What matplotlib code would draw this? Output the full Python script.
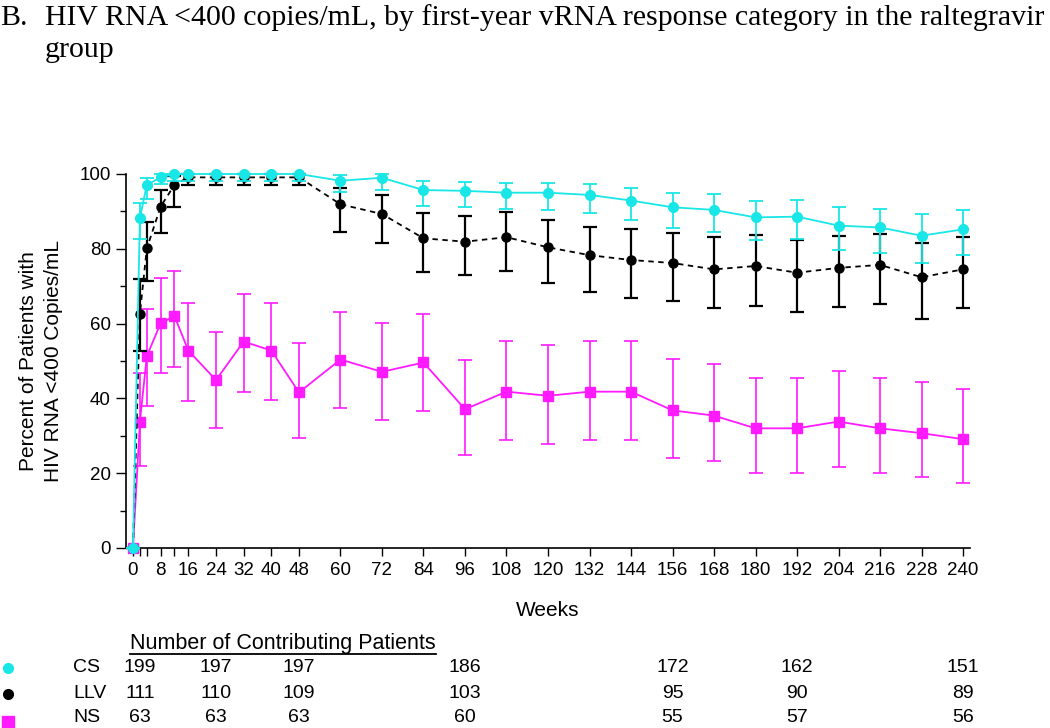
import numpy as np
import matplotlib
matplotlib.use("Agg")
from matplotlib import pyplot as plt
from matplotlib.lines import Line2D
from matplotlib.transforms import blended_transform_factory

# Study weeks
weeks = [0, 2, 4, 8, 12, 16, 24, 32, 40, 48, 60, 72, 84, 96, 108, 120,
         132, 144, 156, 168, 180, 192, 204, 216, 228, 240]

# CS group: percent, lower CI, upper CI
cs_pct = [0, 88.2, 97.1, 99.1, 100, 100, 100, 100, 100, 100, 98.2, 99.0, 95.7,
          95.5, 95.0, 95.0, 94.4, 92.9, 91.1, 90.4, 88.4, 88.6, 86.2, 85.7, 83.5, 85.2]
cs_lo = [0, 82.5, 93.2, 97.3, 98.2, 98.2, 98.2, 98.2, 98.2, 98.2, 95.1, 95.7, 91.5,
         91.3, 90.6, 90.4, 89.5, 87.7, 85.5, 84.6, 82.4, 82.5, 79.7, 79.0, 76.3, 78.3]
cs_hi = [0, 92.3, 98.8, 100, 100, 100, 100, 100, 100, 100, 99.7, 100, 98.0,
         97.9, 97.7, 97.5, 97.2, 96.3, 94.8, 94.6, 92.9, 93.0, 91.3, 90.6, 89.3, 90.4]

# LLV group
llv_pct = [0, 62.7, 80.1, 91.3, 97.1, 99.1, 99.1, 99.1, 99.1, 99.1, 91.9, 89.3, 82.8,
           81.9, 83.1, 80.4, 78.3, 77.0, 76.2, 74.5, 75.4, 73.6, 74.9, 75.7, 72.4, 74.5]
llv_lo = [0, 52.7, 71.4, 84.1, 91.3, 97.0, 97.0, 97.0, 97.0, 97.0, 84.6, 81.5, 73.7,
          73.0, 74.0, 70.9, 68.4, 66.9, 66.1, 64.1, 64.8, 63.2, 64.4, 65.2, 61.2, 64.2]
llv_hi = [0, 71.9, 87.1, 95.7, 99.5, 100, 100, 100, 100, 100, 96.2, 94.4, 89.5,
          88.8, 89.8, 87.7, 85.9, 85.2, 84.3, 83.1, 83.7, 82.4, 83.4, 84.0, 81.6, 83.1]

# NS group
ns_pct = [0, 33.8, 51.3, 60.1, 62.0, 52.8, 44.9, 55.2, 52.8, 41.6, 50.4, 47.1, 49.6,
          37.1, 41.8, 40.7, 41.8, 41.8, 36.8, 35.4, 32.0, 32.0, 33.8, 32.0, 30.7, 29.1]
ns_lo = [0, 21.9, 38.1, 46.7, 48.5, 39.4, 32.2, 41.8, 39.6, 29.3, 37.3, 34.2, 36.5,
         24.8, 28.9, 27.7, 28.9, 28.9, 24.1, 23.3, 20.1, 20.1, 21.7, 20.1, 19.1, 17.5]
ns_hi = [0, 46.9, 63.8, 72.1, 74.1, 65.6, 57.8, 67.9, 65.6, 54.7, 63.2, 60.1, 62.6,
         50.3, 55.3, 54.4, 55.3, 55.3, 50.6, 49.1, 45.5, 45.5, 47.3, 45.5, 44.3, 42.4]

# Number of contributing patients
count_weeks = [2, 24, 48, 96, 156, 192, 240]
cs_n = [199, 197, 197, 186, 172, 162, 151]
llv_n = [111, 110, 109, 103, 95, 90, 89]
ns_n = [63, 63, 63, 60, 55, 57, 56]

xtick_pos = [0, 2, 4, 8, 12, 16, 24, 32, 40, 48] + list(range(60, 241, 12))
xtick_lab = ['' if t in (2, 4, 12) else str(t) for t in xtick_pos]

CYAN = '#19E6E6'
MAGENTA = '#FF1AFF'
SANS = 'Liberation Sans'
SERIF = 'Liberation Serif'

fig = plt.figure(figsize=(10.5, 7.28), dpi=100)
ax = fig.add_axes([126 / 1050, 1 - 548 / 728, 844 / 1050, 374 / 728])


def draw(pct, lo, hi, color, marker, ms, ls, elw, zorder):
    pct = np.array(pct)
    err = [pct - np.array(lo), np.array(hi) - pct]
    ax.errorbar(weeks, pct, yerr=err, color=color, ecolor=color, marker=marker,
                ms=ms, ls=ls, lw=1.3, elinewidth=elw, capsize=5, capthick=elw,
                clip_on=False, zorder=zorder)


draw(ns_pct, ns_lo, ns_hi, MAGENTA, 's', 7.5, '-', 1.2, 3)
draw(llv_pct, llv_lo, llv_hi, 'black', 'o', 6.5, (0, (3, 2.5)), 1.6, 4)
draw(cs_pct, cs_lo, cs_hi, CYAN, 'o', 7, '-', 1.3, 5)

ax.set_xlim(-2.02, 242.02)
ax.set_ylim(0, 100)
ax.spines['top'].set_visible(False)
ax.spines['right'].set_visible(False)
ax.spines['left'].set_linewidth(1.2)
ax.spines['bottom'].set_linewidth(1.2)

ax.set_xticks(xtick_pos)
ax.set_xticklabels(xtick_lab, fontsize=13.5, family=SANS)
ax.set_yticks(range(0, 101, 20))
ax.set_yticks(range(10, 100, 20), minor=True)
ax.set_yticklabels([str(v) for v in range(0, 101, 20)], fontsize=13.5, family=SANS)
ax.tick_params(axis='both', which='major', length=6, width=1, pad=4)
ax.tick_params(axis='y', which='major', length=7)
ax.tick_params(axis='y', which='minor', length=4, width=1)

ax.set_xlabel('Weeks', fontsize=15, family=SANS, labelpad=16)
ax.set_ylabel('Percent of Patients with\nHIV RNA <400 Copies/mL', fontsize=15,
              family=SANS, linespacing=1.4)
ax.yaxis.set_label_coords(-0.075, 0.5)

# title
TSIZE = 21.5
fig.text(0.0, 1 - 18 / 728, 'B.', fontsize=TSIZE, family=SERIF, va='center')
fig.text(45 / 1050, 1 - 18 / 728,
         'HIV RNA <400 copies/mL, by first-year vRNA response category in the raltegravir',
         fontsize=TSIZE, family=SERIF, va='center')
fig.text(45 / 1050, 1 - 50 / 728, 'group', fontsize=TSIZE, family=SERIF, va='center')

# patient count table
hdr = fig.text(130 / 1050, 1 - 643 / 728, 'Number of Contributing Patients',
               fontsize=15.5, family=SANS, va='center')
trans = blended_transform_factory(ax.transData, fig.transFigure)
rows = [('CS', cs_n, CYAN, 'o', 668, 668), ('LLV', llv_n, 'black', 'o', 694, 694),
        ('NS', ns_n, MAGENTA, 's', 717, 722)]
for name, counts, color, marker, ypx, mpx in rows:
    yf = 1 - ypx / 728
    fig.add_artist(Line2D([8 / 1050], [1 - mpx / 728], marker=marker, color=color,
                          ms=9 if marker == 's' else 7, ls='none',
                          transform=fig.transFigure))
    fig.text(73 / 1050, yf, name, fontsize=14, family=SANS, va='center')
    for wk, n in zip(count_weeks, counts):
        fig.text(wk, yf, str(n), fontsize=14, family=SANS, va='center',
                 ha='center', transform=trans)

fig.canvas.draw()
bb = hdr.get_window_extent().transformed(fig.transFigure.inverted())
fig.add_artist(Line2D([bb.x0, bb.x1], [bb.y0 - 0.001, bb.y0 - 0.001], color='black',
                      lw=1.3, transform=fig.transFigure))

fig.savefig('out.png', dpi=100)
